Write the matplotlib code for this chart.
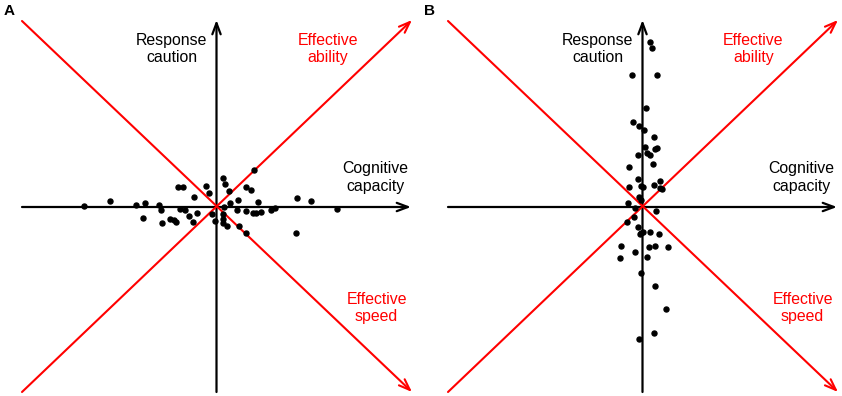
import numpy as np
import matplotlib
matplotlib.use('Agg')
import matplotlib.pyplot as plt

plt.rcParams['font.family'] = ['Liberation Sans', 'DejaVu Sans']

# 面板A：认知能力方向上分散的点
a_x = [-1.33, -1.07, -0.81, -0.72, -0.74, -0.58, -0.56, -0.55, -0.47, -0.43, -0.41,
       -0.39, -0.34, -0.37, -0.32, -0.28, -0.24, -0.23, -0.20, -0.11, -0.08,
       0.06, 0.08, 0.12, 0.37, 0.29, 0.34, 0.13, 0.21, 0.41, 0.07, 0.20, 0.29,
       0.36, 0.39, 0.44, 0.54, 0.58, 0.80, 0.94, 1.20, -0.05, -0.02, 0.06, 0.06,
       0.06, 0.10, 0.22, 0.29, 0.79]
a_y = [0.01, 0.06, 0.02, 0.04, -0.11, 0.02, -0.03, -0.16, -0.12, -0.13, -0.15,
       0.20, 0.20, -0.02, -0.03, -0.09, -0.15, 0.10, -0.06, 0.21, 0.14,
       0.29, 0.23, 0.16, 0.37, 0.20, 0.17, 0.04, 0.07, 0.05, 0.0, -0.03, -0.04,
       -0.06, -0.06, -0.05, -0.03, -0.01, 0.09, 0.06, -0.02, -0.07, -0.14, -0.07, -0.12,
       -0.16, -0.19, -0.19, -0.26, -0.26]

# 面板B：反应谨慎方向上分散的点
b_x = [0.07, 0.09, -0.11, 0.14, 0.03, -0.10, -0.04, 0.01, 0.11, 0.02, 0.14, 0.12,
       -0.05, 0.04, 0.07, -0.14, 0.10, -0.05, -0.14, -0.02, 0.00, 0.11, 0.17, 0.17,
       0.19, -0.04, -0.02, -0.15, -0.08, 0.13, -0.09, -0.16, -0.05, 0.00, -0.02,
       -0.03, 0.07, 0.16, -0.22, 0.06, 0.12, 0.25, -0.08, -0.23, 0.04, -0.02, 0.12,
       0.23, 0.11, -0.04]
b_y = [1.65, 1.59, 1.32, 1.32, 0.99, 0.85, 0.81, 0.77, 0.70, 0.60, 0.59, 0.58,
       0.52, 0.54, 0.52, 0.40, 0.43, 0.28, 0.20, 0.21, 0.20, 0.22, 0.26, 0.19,
       0.18, 0.10, 0.07, 0.04, -0.01, -0.04, -0.10, -0.15, -0.20, -0.25, -0.26,
       -0.27, -0.25, -0.27, -0.39, -0.40, -0.39, -0.40, -0.45, -0.51, -0.50, -0.66, -0.79,
       -1.02, -1.26, -1.32]

panels = ['A', 'B']
fs = 11.4
red = '#FF0000'


def draw_panel(ax, label, x, y):
    left, right = -1.945, 1.955
    bottom, top = -1.85, 1.87
    blk = dict(arrowstyle='->,head_length=0.8,head_width=0.3', color='black', lw=1.6,
               shrinkA=0, shrinkB=0)
    rd = dict(arrowstyle='->,head_length=0.8,head_width=0.3', color=red, lw=1.5,
              shrinkA=0, shrinkB=0)
    # 坐标轴箭头
    ax.annotate('', xy=(right - 0.01, 0), xytext=(left, 0), arrowprops=blk)
    ax.annotate('', xy=(0, top), xytext=(0, bottom), arrowprops=blk)
    # 红色对角线
    ax.annotate('', xy=(right, bottom), xytext=(left, top - 0.01), arrowprops=rd)
    ax.annotate('', xy=(right, top), xytext=(left, bottom), arrowprops=rd)

    ax.plot(x, y, 'o', color='black', markersize=3.6, zorder=5)

    ax.text(-0.45, 1.58, 'Response\ncaution', ha='center', va='center', fontsize=fs)
    ax.text(1.11, 1.58, 'Effective\nability', ha='center', va='center', fontsize=fs, color=red)
    ax.text(1.59, 0.295, 'Cognitive\ncapacity', ha='center', va='center', fontsize=fs)
    ax.text(1.60, -1.01, 'Effective\nspeed', ha='center', va='center', fontsize=fs, color=red)

    ax.text(0.008, 0.972, label, transform=ax.transAxes, ha='left', va='center',
            fontsize=11, fontweight='bold')
    ax.axis('off')


fig = plt.figure(figsize=(8.42, 3.96), dpi=100)
ax1 = fig.add_axes([0, 0, 0.5, 1])
ax1.set_xlim(-2.165, 2.045)
ax1.set_ylim(-1.89, 2.07)
draw_panel(ax1, panels[0], a_x, a_y)

ax2 = fig.add_axes([0.5, 0, 0.5, 1])
ax2.set_xlim(-2.215, 1.995)
ax2.set_ylim(-1.89, 2.07)
draw_panel(ax2, panels[1], b_x, b_y)

plt.savefig('out.png', dpi=100)
plt.close(fig)
